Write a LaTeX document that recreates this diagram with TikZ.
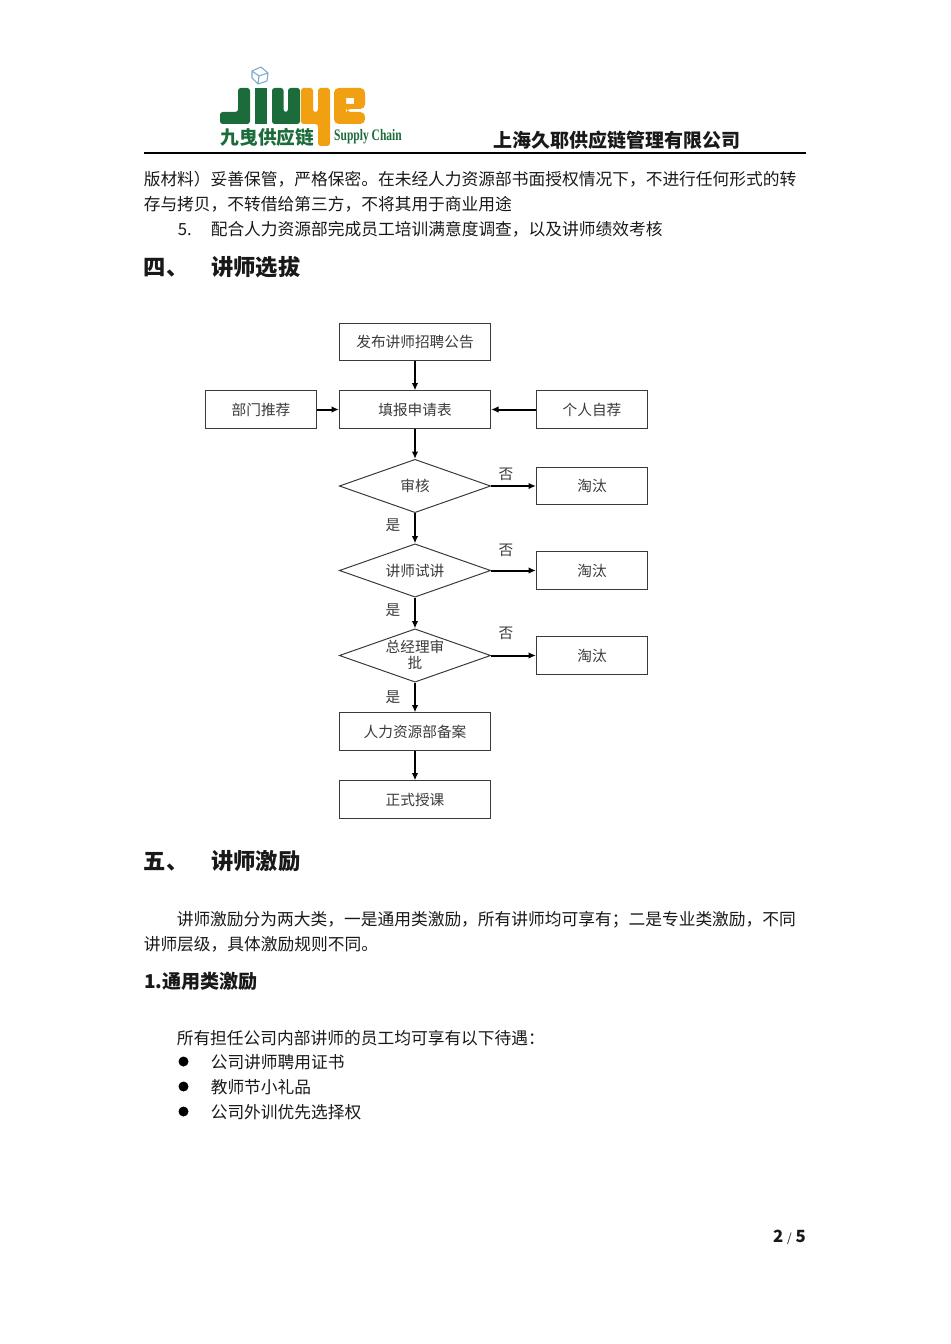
\documentclass[tikz,border=0pt]{standalone}
\usepackage{fontspec}
\setmainfont{Noto Sans CJK SC}
\newfontfamily\latinnarrow{Liberation Serif}
\usetikzlibrary{arrows.meta,shapes.geometric}
\definecolor{logogreen}{HTML}{1C6B3A}
\definecolor{logoorange}{HTML}{F0A010}
\definecolor{logoblue}{HTML}{7FA8CC}
\definecolor{inkgrey}{HTML}{3A3A3A}
\tikzset{
  x=0.75pt,y=-0.75pt,
  bodytext/.style={anchor=base west,inner sep=0pt,font=\fontsize{12.55pt}{15pt}\selectfont,text=black!90},
  headtext/.style={anchor=base west,inner sep=0pt,font=\fontsize{16.7pt}{20pt}\selectfont\bfseries,text=black!90},
  subtext/.style={anchor=base west,inner sep=0pt,font=\fontsize{14.3pt}{16pt}\selectfont\bfseries,text=black!90},
  listdot/.style={circle,fill=black,inner sep=0pt,minimum size=7.5pt},
  flowbox/.style={draw=inkgrey,line width=0.75pt,minimum width=113.5pt,minimum height=28pt,inner sep=0pt,font=\fontsize{11pt}{13pt}\selectfont,text=inkgrey},
  sidebox/.style={flowbox,minimum width=83.5pt},
  decide/.style={diamond,draw=inkgrey,line width=0.75pt,aspect=2.87,minimum width=113.5pt,minimum height=40pt,inner sep=0pt,font=\fontsize{11pt}{13pt}\selectfont,text=inkgrey},
  yesno/.style={inner sep=0pt,font=\fontsize{11pt}{13pt}\selectfont,text=inkgrey},
  flowarrow/.style={-{Latex[length=5.5pt,width=5pt]},line width=1.5pt,black},
}
\begin{document}
\begin{tikzpicture}
  \useasboundingbox (0,0) rectangle (950,1344);
  % logo
  \draw[logoblue,line width=0.8pt,line join=round] (252,71) -- (261,67) -- (268,73) -- (267,81) -- (258,84) -- (252,78) -- cycle
    (252,71) -- (259,76) -- (268,73) (259,76) -- (258,84);
  \fill[logogreen,rounded corners=2pt] (238,88) -- (250,88) -- (250,124) -- (220,124) -- (220,112) -- (238,112) -- cycle;
  \fill[logogreen] (255,88) rectangle (267,124);
  \fill[logogreen,rounded corners=2pt] (272,88) -- (283.5,88) -- (283.5,112) -- (288,112) -- (288,88) -- (300,88) -- (300,124) -- (272,124) -- cycle;
  \fill[logoorange,rounded corners=2pt] (301,88) -- (313,88) -- (313,112) -- (318,112) -- (318,88) -- (330,88) -- (330,146) -- (318,146) -- (318,124) -- (301,124) -- cycle;
  \fill[logoorange,even odd rule] [rounded corners=3.5pt] (334,88) -- (365,88) -- (365,109) -- (346,109) -- (346,112) -- (365,112) -- (365,124) -- (334,124) -- cycle
    [sharp corners] (346,98) -- (354,98) -- (354,104) -- (346,104) -- cycle;
  \node[inner sep=0pt,text=logogreen,font=\fontsize{14pt}{16pt}\selectfont\bfseries] (logocn) at (267.5,137) {九曳供应链};
  \node[inner sep=0pt,text=logogreen,font=\latinnarrow\bfseries\fontsize{12pt}{13pt}\selectfont] (logoen) at (368,137) {\scalebox{0.72}[1]{Supply Chain}};
  % header
  \node[anchor=base west,inner sep=0pt,text=black!90,font=\fontsize{14.25pt}{16pt}\selectfont\bfseries] (corp) at (493,148) {上海久耶供应链管理有限公司};
  \coordinate (ruleL) at (144,153);
  \coordinate (ruleR) at (806,153);
  \draw[line width=1.5pt,black] (ruleL) -- (ruleR);
  % text above the chart
  \node[bodytext] (lineA) at (143.5,186) {版材料）妥善保管，严格保密。在未经人力资源部书面授权情况下，不进行任何形式的转};
  \node[bodytext] (lineB) at (143.5,211) {存与拷贝，不转借给第三方，不将其用于商业用途};
  \node[bodytext] (lineC) at (177.5,236) {5.};
  \node[bodytext] (lineD) at (210.5,236) {配合人力资源部完成员工培训满意度调查，以及讲师绩效考核};
  \node[headtext] (headA) at (143.5,276) {四、};
  \node[headtext] (headB) at (211,276) {讲师选拔};
  % chart
  \node[flowbox] (notice) at (415,342) {发布讲师招聘公告};
  \node[flowbox] (form) at (415,409.5) {填报申请表};
  \node[sidebox] (dept) at (261,409.5) {部门推荐};
  \node[sidebox] (self) at (592,409.5) {个人自荐};
  \node[decide] (review) at (415,486) {审核};
  \node[decide] (trial) at (415,570.5) {讲师试讲};
  \node[decide] (boss) at (415,655.5) {\raisebox{-9.5pt}[0pt][0pt]{\makebox[0pt]{\shortstack[c]{总经理审\\[-1pt]批}}}};
  \node[flowbox] (record) at (415,731.5) {人力资源部备案};
  \node[flowbox] (teach) at (415,799.5) {正式授课};
  \node[sidebox] (outA) at (592,486) {淘汰};
  \node[sidebox] (outB) at (592,570.5) {淘汰};
  \node[sidebox] (outC) at (592,655.5) {淘汰};
  \node[yesno] (noA) at (506,474) {否};
  \node[yesno] (noB) at (506,550) {否};
  \node[yesno] (noC) at (506,633) {否};
  \node[yesno] (yesA) at (393,525) {是};
  \node[yesno] (yesB) at (393,610.5) {是};
  \node[yesno] (yesC) at (393,697) {是};
  \foreach \a/\b in {notice/form,dept/form,self/form,form/review,review/trial,trial/boss,boss/record,record/teach}
    \draw[flowarrow] (\a) -- (\b);
  \draw[flowarrow] (review.east) -- (outA.west);
  \draw[flowarrow] (trial.east) -- (outB.west);
  \draw[flowarrow] (boss.east) -- (outC.west);
  % text below the chart
  \node[headtext] (headC) at (143.5,869) {五、};
  \node[headtext] (headD) at (211,869) {讲师激励};
  \node[bodytext] (lineE) at (176.5,925.5) {讲师激励分为两大类，一是通用类激励，所有讲师均可享有；二是专业类激励，不同};
  \node[bodytext] (lineF) at (143.5,950.5) {讲师层级，具体激励规则不同。};
  \node[subtext] (headE) at (144,988) {1.通用类激励};
  \node[bodytext] (lineG) at (176.5,1044) {所有担任公司内部讲师的员工均可享有以下待遇：};
  \node[listdot] (dotA) at (183.5,1061.5) {};
  \node[listdot] (dotB) at (183.5,1086.5) {};
  \node[listdot] (dotC) at (183.5,1111.5) {};
  \node[bodytext] (itemA) at (210.5,1068) {公司讲师聘用证书};
  \node[bodytext] (itemB) at (210.5,1093) {教师节小礼品};
  \node[bodytext] (itemC) at (210.5,1118) {公司外训优先选择权};
  \node[anchor=base east,inner sep=0pt,text=black!90,font=\fontsize{12.6pt}{15pt}\selectfont] (pageno) at (806,1242) {\textbf{2} {\fontsize{9pt}{10pt}\selectfont /} \textbf{5}};
\end{tikzpicture}
\end{document}
